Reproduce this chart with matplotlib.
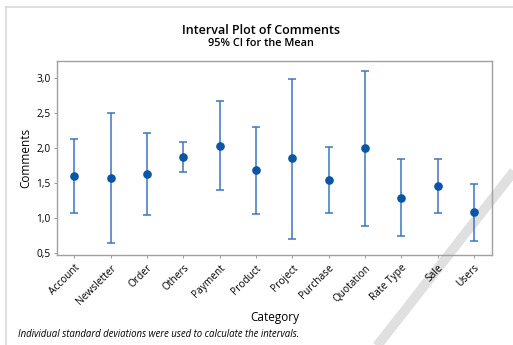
import matplotlib
matplotlib.use("Agg")
import matplotlib.pyplot as plt
from matplotlib.lines import Line2D
from matplotlib.ticker import FuncFormatter
import numpy as np

categories = ["Account", "Newsletter", "Order", "Others", "Payment", "Product",
              "Project", "Purchase", "Quotation", "Rate Type", "Sale", "Users"]
means = [1.61, 1.58, 1.63, 1.88, 2.04, 1.69, 1.86, 1.55, 2.00, 1.29, 1.46, 1.09]
ci_lower = [1.08, 0.65, 1.04, 1.66, 1.41, 1.06, 0.71, 1.07, 0.89, 0.74, 1.07, 0.68]
ci_upper = [2.13, 2.50, 2.22, 2.09, 2.67, 2.30, 2.99, 2.02, 3.11, 1.85, 1.85, 1.49]
y_ticks = [0.5, 1.0, 1.5, 2.0, 2.5, 3.0]

plt.rcParams["font.family"] = ["Open Sans", "DejaVu Sans"]

fig = plt.figure(figsize=(5.13, 3.45), dpi=100)
ax = fig.add_axes([0.111, 0.261, 0.849, 0.562])
ax.patch.set_facecolor("none")

x = np.arange(len(categories))
m = np.array(means)
err = np.vstack([m - np.array(ci_lower), np.array(ci_upper) - m])
ax.errorbar(x, m, yerr=err, fmt="none", ecolor="#3a76c0", elinewidth=1.1,
            capsize=3.2, capthick=1.1, zorder=2)
ax.plot(x, m, "o", color="#0a55a6", markersize=5.2, zorder=3)

ax.set_xlim(-0.48, 11.51)
ax.set_ylim(0.476, 3.247)
ax.set_yticks(y_ticks)
ax.yaxis.set_major_formatter(FuncFormatter(lambda v, p: f"{v:.1f}".replace(".", ",")))
ax.set_xticks(x)
ax.set_xticklabels(categories, rotation=45, ha="right", rotation_mode="anchor",
                   fontsize=7.3)
ax.tick_params(axis="y", labelsize=7.3, length=2.5, width=0.6, color="#888888", pad=2)
ax.tick_params(axis="x", length=2.5, width=0.6, color="#888888", pad=3)
for s in ax.spines.values():
    s.set_color("#a0a0a0")
    s.set_linewidth(1.0)

ax.set_ylabel("Comments", fontsize=8.5, labelpad=3)
ax.set_xlabel("Category", fontsize=8.5, labelpad=3)

fig.text(0.509, 0.913, "Interval Plot of Comments", ha="center", va="center",
         fontsize=9.0, fontweight="semibold")
fig.text(0.509, 0.873, "95% CI for the Mean", ha="center", va="center",
         fontsize=7.8, fontweight="semibold")
fig.text(0.035, 0.031, "Individual standard deviations were used to calculate the intervals.",
         ha="left", va="center", fontsize=6.9, style="italic")

# thin frame lines along the top and left edges
fig.add_artist(Line2D([6 / 513, 1.0], [1 - 7 / 345, 1 - 7 / 345], transform=fig.transFigure,
                      color="#d8d8d8", linewidth=1.2))
fig.add_artist(Line2D([6 / 513, 6 / 513], [0.0, 1 - 7 / 345], transform=fig.transFigure,
                      color="#d8d8d8", linewidth=1.2))

# diagonal grey pen stroke in the lower right, drawn beneath the plot
fig.add_artist(Line2D([515 / 513, 377 / 513], [1 - 170 / 345, 1 - 346 / 345],
                      transform=fig.transFigure, color="#e0e0e0",
                      linewidth=7.0, solid_capstyle="butt", zorder=-1))

fig.savefig("out.png", dpi=100)
